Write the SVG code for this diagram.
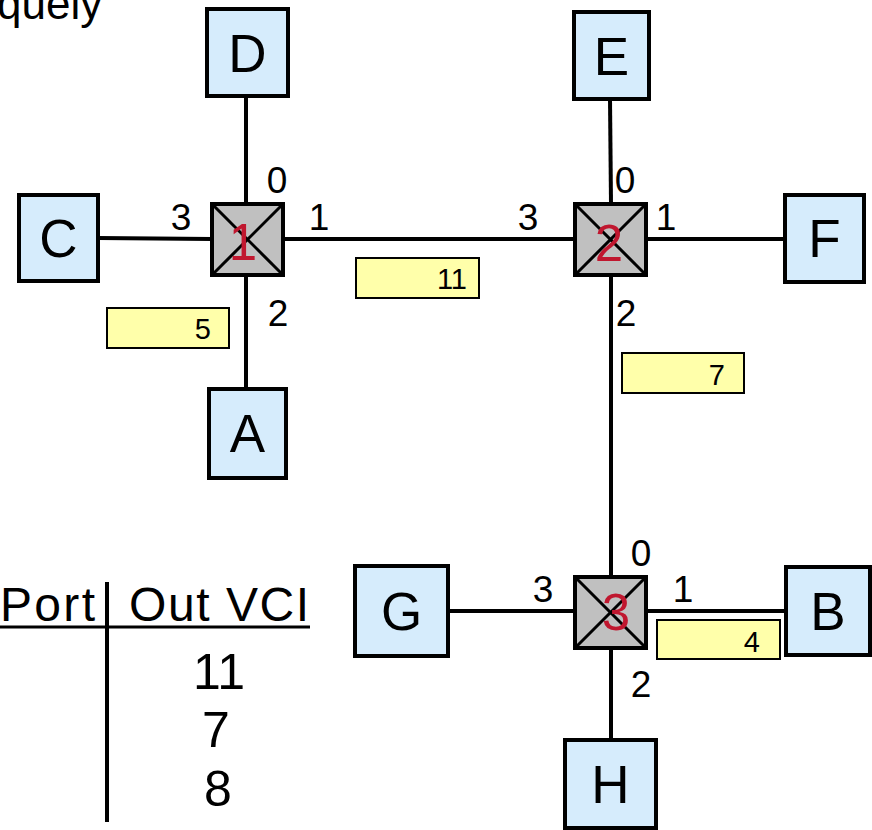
<svg xmlns="http://www.w3.org/2000/svg" width="872" height="830" viewBox="0 0 872 830">
  <style>
    text { font-family: "Liberation Sans", Arial, sans-serif; fill: #000; }
    .host rect { fill: #d6ecfc; stroke: #000; stroke-width: 4; }
    .host text { font-size: 53px; text-anchor: middle; }
    .sw rect { fill: #c0c0c0; stroke: #000; stroke-width: 4; }
    .sw line { stroke: #000; stroke-width: 3; }
    .sw text { font-size: 51px; text-anchor: middle; fill: #c0172f; }
    .link { stroke: #000; stroke-width: 4; fill: none; }
    .port { font-size: 37px; text-anchor: middle; }
    .vci rect { fill: #ffffaa; stroke: #000; stroke-width: 2; }
    .vci text { font-size: 29px; text-anchor: end; }
    .tbl { font-size: 48px; }
    .row { font-size: 50px; text-anchor: middle; }
  </style>

  <!-- caption fragment -->
  <text x="-3" y="19" font-size="44">quely</text>

  <!-- links -->
  <g id="connectors">
    <line class="link" x1="246" y1="96" x2="246" y2="204"/>
    <line class="link" x1="246" y1="275" x2="246" y2="389"/>
    <line class="link" x1="98" y1="238" x2="212" y2="239"/>
    <line class="link" x1="283" y1="239" x2="575" y2="239"/>
    <line class="link" x1="610" y1="99" x2="611" y2="204"/>
    <line class="link" x1="646" y1="239" x2="785" y2="239"/>
    <line class="link" x1="611" y1="275" x2="611" y2="577"/>
    <line class="link" x1="448" y1="611" x2="575" y2="611"/>
    <line class="link" x1="646" y1="611" x2="786" y2="611"/>
    <line class="link" x1="611" y1="648" x2="611" y2="740"/>
  </g>

  <!-- hosts -->
  <g id="host-D" class="host"><rect x="207" y="9" width="81" height="87"/><text x="247.5" y="72">D</text></g>
  <g id="host-C" class="host"><rect x="19" y="195" width="79" height="86"/><text x="58.5" y="257">C</text></g>
  <g id="host-A" class="host"><rect x="209" y="389" width="77" height="89"/><text x="247.5" y="452">A</text></g>
  <g id="host-E" class="host"><rect x="574" y="12" width="75" height="87"/><text x="611.5" y="75">E</text></g>
  <g id="host-F" class="host"><rect x="785" y="195" width="79" height="87"/><text x="824.5" y="257">F</text></g>
  <g id="host-G" class="host"><rect x="355" y="566" width="93" height="90"/><text x="401.5" y="630">G</text></g>
  <g id="host-B" class="host"><rect x="786" y="567" width="84" height="88"/><text x="828" y="630">B</text></g>
  <g id="host-H" class="host"><rect x="565" y="740" width="91" height="88"/><text x="610.5" y="803">H</text></g>

  <!-- switches -->
  <g id="switch-1" class="sw">
    <rect x="212" y="204" width="71" height="71"/>
    <line x1="212" y1="204" x2="283" y2="275"/><line x1="283" y1="204" x2="212" y2="275"/>
    <text x="243" y="260">1</text>
  </g>
  <g id="switch-2" class="sw">
    <rect x="575" y="204" width="71" height="71"/>
    <line x1="575" y1="204" x2="646" y2="275"/><line x1="646" y1="204" x2="575" y2="275"/>
    <text x="609" y="261">2</text>
  </g>
  <g id="switch-3" class="sw">
    <rect x="575" y="577" width="71" height="71"/>
    <line x1="575" y1="577" x2="646" y2="648"/><line x1="646" y1="577" x2="575" y2="648"/>
    <text x="616" y="630">3</text>
  </g>

  <!-- port numbers -->
  <g id="ports">
    <text class="port" x="277" y="193">0</text>
    <text class="port" x="181" y="230">3</text>
    <text class="port" x="319" y="230">1</text>
    <text class="port" x="278" y="326">2</text>
    <text class="port" x="625" y="193">0</text>
    <text class="port" x="528" y="230">3</text>
    <text class="port" x="666" y="230">1</text>
    <text class="port" x="626" y="326">2</text>
    <text class="port" x="641" y="566">0</text>
    <text class="port" x="543" y="602">3</text>
    <text class="port" x="683" y="602">1</text>
    <text class="port" x="641" y="697">2</text>
  </g>

  <!-- VCI tags -->
  <g id="vci-5" class="vci"><rect x="107" y="308" width="122" height="40"/><text x="211" y="339">5</text></g>
  <g id="vci-11" class="vci"><rect x="356" y="258" width="123" height="40"/><text x="467" y="289">11</text></g>
  <g id="vci-7" class="vci"><rect x="622" y="353" width="122" height="40"/><text x="725" y="385">7</text></g>
  <g id="vci-4" class="vci"><rect x="657" y="620" width="123" height="39"/><text x="760" y="652">4</text></g>

  <!-- switch table fragment -->
  <g id="table">
    <line x1="0" y1="627" x2="310" y2="627" stroke="#000" stroke-width="3"/>
    <line x1="107" y1="582" x2="107" y2="822" stroke="#000" stroke-width="4"/>
    <text class="tbl" x="0" y="621" textLength="95" lengthAdjust="spacing">Port</text>
    <text class="tbl" x="129" y="621" textLength="180" lengthAdjust="spacing">Out VCI</text>
    <text class="row" x="219" y="689">11</text>
    <text class="row" x="216" y="747">7</text>
    <text class="row" x="218" y="806">8</text>
  </g>
</svg>
